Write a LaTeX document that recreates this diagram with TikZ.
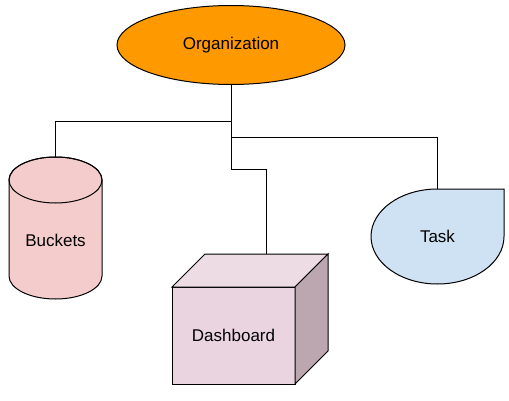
\documentclass[tikz,border=0pt]{standalone}
\usepackage{fontspec}
\setmainfont{Liberation Sans}
\usepackage{tikz}
\usetikzlibrary{shapes, arrows, positioning, calc}
\definecolor{orgfill}{HTML}{FF9900}
\definecolor{buckfill}{HTML}{F4CCCC}
\definecolor{taskfill}{HTML}{CFE2F3}
\definecolor{dashfront}{HTML}{EAD4DF}
\definecolor{dashtop}{HTML}{EEDCE5}
\definecolor{dashside}{HTML}{BCA7B1}
\begin{document}
\begin{tikzpicture}[x=1pt, y=1pt, line width=1pt, every node/.style={font=\fontsize{17}{20}\selectfont, outer sep=0pt}]
		\useasboundingbox (0, 0) rectangle (509, 400);
		\coordinate (org)  at (231, 355);
		\coordinate (buck) at (9, 101);
		\coordinate (dash) at (172, 16);
		\coordinate (task) at (371, 116);

		\draw[fill=buckfill] ($(buck)+(0,119)$) -- ($(buck)+(0,23)$) arc[start angle=180, end angle=360, x radius=46.5, y radius=23] -- ($(buck)+(93,119)$) arc[start angle=0, end angle=180, x radius=46.5, y radius=23] -- cycle;
		\draw ($(buck)+(46.5,119)$) ellipse[x radius=46.5, y radius=23];
		\draw[fill=taskfill] ($(task)+(133,95)$) -- ++(0,-47.5) arc[start angle=0, end angle=-270, x radius=66.5, y radius=47.5] -- cycle;

		\node[draw, ellipse, fill=orgfill, minimum width=228pt, minimum height=79pt, align=center] (ORG) at (org) {Organization};
		\node[minimum width=93pt, minimum height=142pt, anchor=south west] (BUC) at (buck) {};
		\node[align=center] (BUCT) at ($(BUC.center)+(0,-12)$) {Buckets};
		\node[draw, fill=dashfront, minimum width=123pt, minimum height=97pt, anchor=south west, align=center] (DASH) at (dash) {Dashboard};
		\node[minimum width=133pt, minimum height=95pt, anchor=south west, align=center] (TASK) at (task) {Task};
		\coordinate (DASHTOP) at ($(DASH.north)+(33,33)$);

		\draw[fill=dashtop] (DASH.north west) -- ++(33,33) -- ++(123,0) -- (DASH.north east) -- cycle;
		\draw[fill=dashside] (DASH.north east) -- ++(33,33) -- ++(0,-97) -- (DASH.south east) -- cycle;

		\draw (ORG.270) -- ++(0,-37) -| (BUC.90);
		\draw (ORG.270) -- ++(0,-53) -| (TASK.90);
		\draw (ORG.270) -- ++(0,-85) -| (DASHTOP);
	\end{tikzpicture}
\end{document}
